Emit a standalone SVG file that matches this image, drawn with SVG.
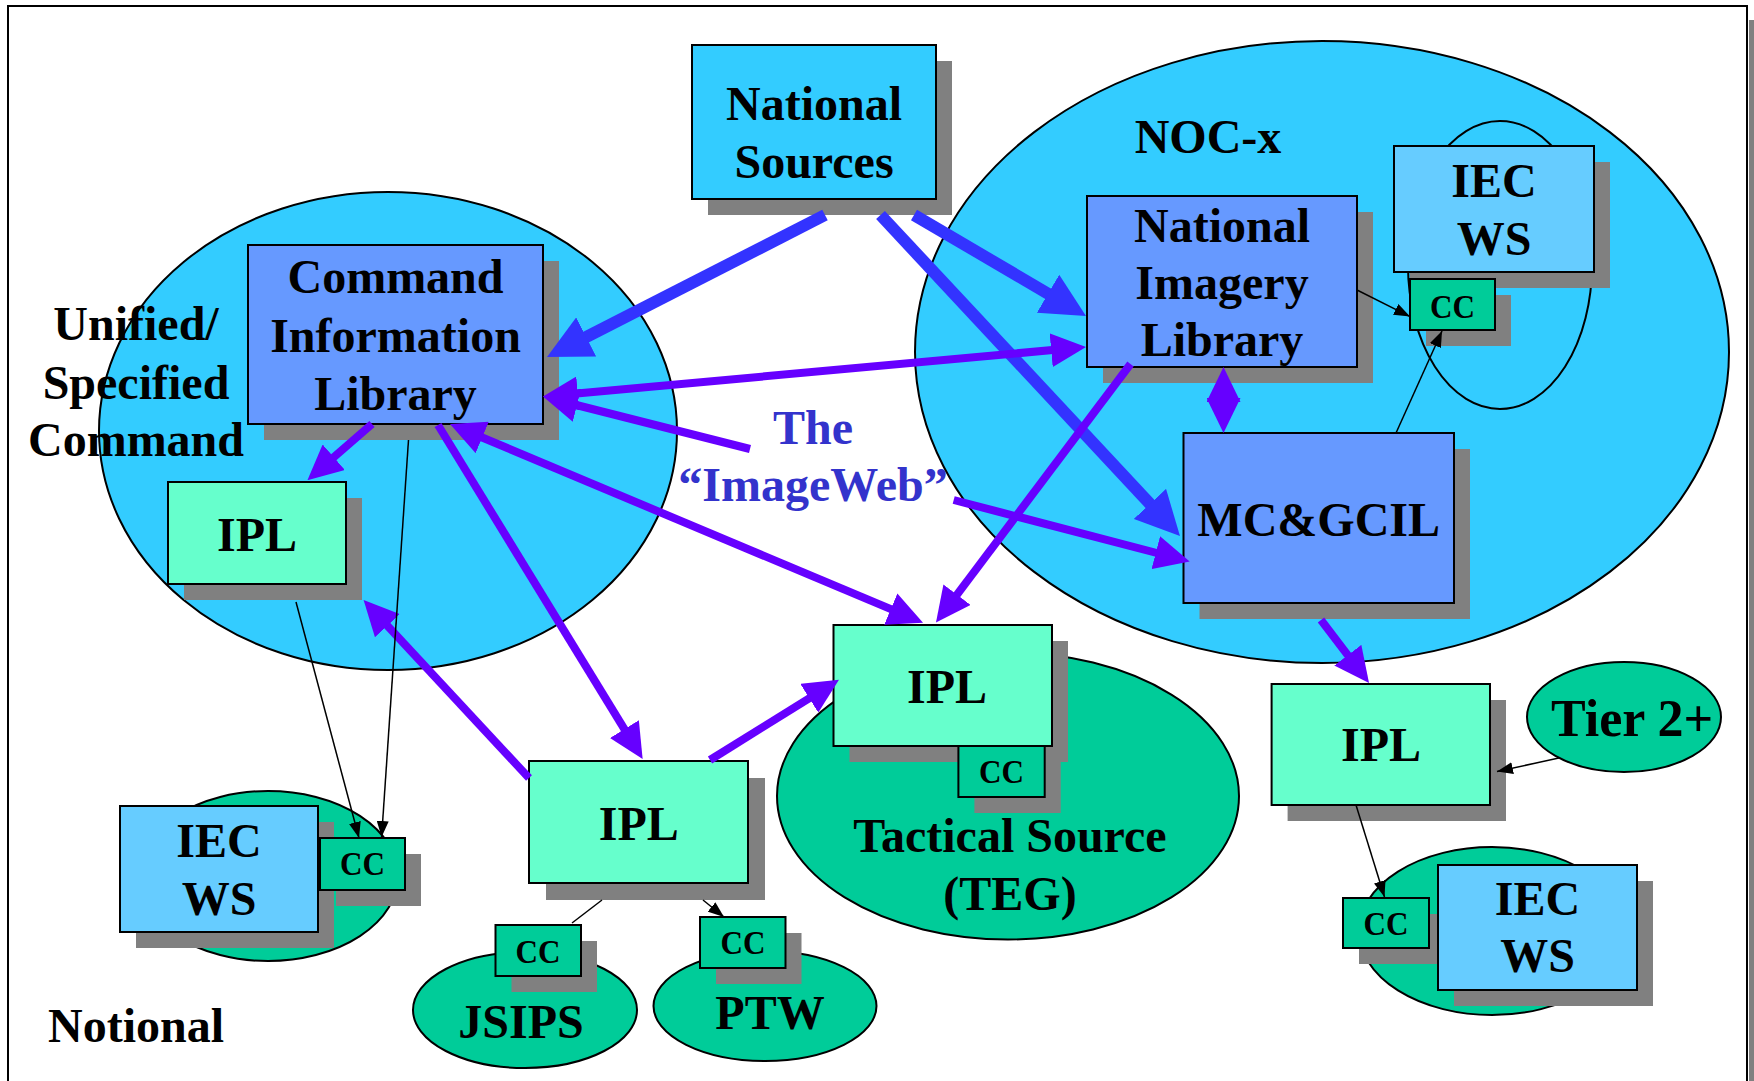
<svg xmlns="http://www.w3.org/2000/svg" width="1754" height="1081" viewBox="0 0 1754 1081">
<style>
.t{font-family:"Liberation Serif","Times New Roman",serif;font-weight:bold;font-size:48px;text-anchor:middle;fill:#000}
.cc{font-size:34px}
.sh{fill:#808080}
.bx{stroke:#000;stroke-width:2}
.el{stroke:#000;stroke-width:2}
.cyan{fill:#33CCFF}.lib{fill:#6699FF}.ipl{fill:#66FFCC}.grn{fill:#00CC99}.iec{fill:#66CCFF}
.pa{stroke:#6600FF;stroke-width:8;fill:none}
.ba{stroke:#3333FF;stroke-width:12;fill:none}
.ka{stroke:#000;stroke-width:1.5;fill:none}
</style>
<defs>
<marker id="ap" markerUnits="userSpaceOnUse" viewBox="0 0 35 34" markerWidth="35" markerHeight="34" refX="15" refY="17" orient="auto-start-reverse"><path d="M0,0 L35,17 L0,34 z" fill="#6600FF"/></marker>
<marker id="ab" markerUnits="userSpaceOnUse" viewBox="0 0 44 44" markerWidth="44" markerHeight="44" refX="20" refY="22" orient="auto"><path d="M0,0 L44,22 L0,44 z" fill="#3333FF"/></marker>
<marker id="ak" markerUnits="userSpaceOnUse" viewBox="0 0 16 12" markerWidth="16" markerHeight="12" refX="16" refY="6" orient="auto"><path d="M0,0 L16,6 L0,12 z" fill="#000"/></marker>
</defs>
<rect x="0" y="0" width="1754" height="1081" fill="#fff"/>
<rect x="1749" y="20" width="5" height="1061" fill="#808080"/>
<rect x="8" y="6" width="1739" height="1100" fill="#fff" stroke="#000" stroke-width="2"/>

<g id="unified-command">
<ellipse class="el cyan" cx="388" cy="431" rx="289" ry="239"/>
<text class="t" x="136" y="340">Unified/</text>
<text class="t" x="136" y="399">Specified</text>
<text class="t" x="136" y="456">Command</text>
</g>
<g id="noc-x">
<ellipse class="el cyan" cx="1322" cy="352" rx="407" ry="311"/>
<text class="t" x="1208" y="153">NOC-x</text>
</g>
<g id="noc-iec-ring"><ellipse class="el" fill="none" cx="1500" cy="265" rx="92" ry="144"/></g>
<g id="tactical-source">
<ellipse class="el grn" cx="1008" cy="796" rx="231" ry="143.5"/>
<text class="t" x="1010" y="852">Tactical Source</text>
<text class="t" x="1010" y="910">(TEG)</text>
</g>
<g id="iec-left-ring"><ellipse class="el grn" cx="268" cy="876" rx="130" ry="85"/></g>
<g id="jsips">
<ellipse class="el grn" cx="525" cy="1010" rx="112" ry="58"/>
<text class="t" x="521" y="1038">JSIPS</text>
</g>
<g id="ptw">
<ellipse class="el grn" cx="765" cy="1006" rx="111.5" ry="55"/>
<text class="t" x="770" y="1029">PTW</text>
</g>
<g id="tier2">
<ellipse class="el grn" cx="1624" cy="717" rx="97" ry="55"/>
<text class="t" x="1632" y="736" style="font-size:52px">Tier 2+</text>
</g>
<g id="iec-right-ring"><ellipse class="el grn" cx="1492" cy="931" rx="133" ry="84"/></g>

<g id="national-sources">
<rect class="sh" x="708" y="61" width="244" height="154"/>
<rect class="bx cyan" x="692" y="45" width="244" height="154"/>
<text class="t" x="814" y="120">National</text>
<text class="t" x="814" y="178">Sources</text>
</g>
<g id="command-info-library">
<rect class="sh" x="264" y="261" width="295" height="179"/>
<rect class="bx lib" x="248" y="245" width="295" height="179"/>
<text class="t" x="395.5" y="293">Command</text>
<text class="t" x="395.5" y="352">Information</text>
<text class="t" x="395.5" y="410">Library</text>
</g>
<g id="national-imagery-library">
<rect class="sh" x="1103" y="212" width="270" height="171"/>
<rect class="bx lib" x="1087" y="196" width="270" height="171"/>
<text class="t" x="1222" y="242">National</text>
<text class="t" x="1222" y="299">Imagery</text>
<text class="t" x="1222" y="356">Library</text>
</g>
<g id="iec-ws-noc">
<rect class="sh" x="1410" y="162" width="200" height="126"/>
<rect class="bx iec" x="1394" y="146" width="200" height="126"/>
<text class="t" x="1494" y="197">IEC</text>
<text class="t" x="1494" y="255">WS</text>
</g>
<g id="cc-noc">
<rect class="sh" x="1426" y="295" width="85" height="51"/>
<rect class="bx grn" x="1410" y="279" width="85" height="51"/>
<text class="t cc" x="1452.5" y="318" textLength="45" lengthAdjust="spacingAndGlyphs">CC</text>
</g>
<g id="mcgcil">
<rect class="sh" x="1199.5" y="449" width="270.5" height="170"/>
<rect class="bx lib" x="1183.5" y="433" width="270.5" height="170"/>
<text class="t" x="1318.7" y="536">MC&amp;GCIL</text>
</g>
<g id="ipl-command">
<rect class="sh" x="184" y="498" width="178" height="102"/>
<rect class="bx ipl" x="168" y="482" width="178" height="102"/>
<text class="t" x="257" y="551">IPL</text>
</g>
<g id="iec-ws-left">
<rect class="sh" x="136" y="822" width="198" height="126"/>
<rect class="bx iec" x="120" y="806" width="198" height="126"/>
<text class="t" x="219" y="857">IEC</text>
<text class="t" x="219" y="915">WS</text>
</g>
<g id="cc-left">
<rect class="sh" x="336" y="854" width="85" height="52"/>
<rect class="bx grn" x="320" y="838" width="85" height="52"/>
<text class="t cc" x="362.5" y="875" textLength="45" lengthAdjust="spacingAndGlyphs">CC</text>
</g>
<g id="ipl-middle">
<rect class="sh" x="546" y="778" width="219" height="122"/>
<rect class="bx ipl" x="529" y="761" width="219" height="122"/>
<text class="t" x="638.8" y="839.5">IPL</text>
</g>
<g id="cc-jsips">
<rect class="sh" x="511.5" y="941" width="85.5" height="51"/>
<rect class="bx grn" x="495.5" y="925" width="85.5" height="51"/>
<text class="t cc" x="538" y="962.6" textLength="45" lengthAdjust="spacingAndGlyphs">CC</text>
</g>
<g id="cc-ptw">
<rect class="sh" x="716" y="933" width="85.5" height="51"/>
<rect class="bx grn" x="700" y="917" width="85.5" height="51"/>
<text class="t cc" x="743" y="954" textLength="45" lengthAdjust="spacingAndGlyphs">CC</text>
</g>
<g id="ipl-tactical">
<rect class="sh" x="849.5" y="641" width="218.5" height="121"/>
<rect class="bx ipl" x="833.5" y="625" width="218.5" height="121"/>
<text class="t" x="947" y="703">IPL</text>
</g>
<g id="cc-tactical">
<rect class="sh" x="974.4" y="762" width="86.3" height="51"/>
<rect class="bx grn" x="958.4" y="746" width="86.3" height="51"/>
<text class="t cc" x="1001.5" y="782.5" textLength="45" lengthAdjust="spacingAndGlyphs">CC</text>
</g>
<g id="ipl-right">
<rect class="sh" x="1287.6" y="700" width="218.4" height="121"/>
<rect class="bx ipl" x="1271.6" y="684" width="218.4" height="121"/>
<text class="t" x="1381" y="761">IPL</text>
</g>
<g id="cc-right">
<rect class="sh" x="1359" y="914" width="86" height="50"/>
<rect class="bx grn" x="1343" y="898" width="86" height="50"/>
<text class="t cc" x="1386" y="935" textLength="45" lengthAdjust="spacingAndGlyphs">CC</text>
</g>
<g id="iec-ws-right">
<rect class="sh" x="1454" y="881" width="199" height="125"/>
<rect class="bx iec" x="1438" y="865" width="199" height="125"/>
<text class="t" x="1537.5" y="915">IEC</text>
<text class="t" x="1537.5" y="972">WS</text>
</g>

<g id="imageweb-label">
<text class="t" x="813" y="444" fill="#3333CC" style="fill:#3333CC">The</text>
<text class="t" x="813" y="501" style="fill:#3333CC">“ImageWeb”</text>
</g>
<g id="notional-label"><text class="t" x="48" y="1042" style="text-anchor:start">Notional</text></g>

<g id="connectors">
<path class="ba" marker-end="url(#ab)" d="M825,215 L568.4,346.1"/>
<path class="ba" marker-end="url(#ab)" d="M914,215 L1065.3,303.8"/>
<path class="ba" marker-end="url(#ab)" d="M880.5,215 L1163.6,518.5"/>
<path class="pa" marker-end="url(#ap)" d="M372,424 L322.5,467.1"/>
<path class="pa" marker-end="url(#ap)" d="M438,425 L632.2,741.9"/>
<path class="pa" marker-end="url(#ap)" d="M529,778 L377.2,614.7"/>
<path class="pa" marker-end="url(#ap)" d="M710,760 L822,690.3"/>
<path class="pa" marker-start="url(#ap)" marker-end="url(#ap)" d="M468.4,431.7 L904.6,614.9"/>
<path class="pa" marker-start="url(#ap)" marker-end="url(#ap)" d="M562.9,394.8 L1066.1,348.8"/>
<path class="pa" marker-end="url(#ap)" d="M750,449 L562.4,401.5"/>
<path class="pa" marker-end="url(#ap)" d="M953.7,500 L1170.3,556.5"/>
<path class="pa" marker-end="url(#ap)" d="M1130.5,364 L948,606.6"/>
<path class="pa" marker-end="url(#ap)" d="M1321,620 L1356.9,667.1"/>
<path class="pa" marker-start="url(#ap)" marker-end="url(#ap)" d="M1223.5,387 L1223.5,413"/>
<path class="ka" marker-end="url(#ak)" d="M1357,290 L1410,316.6"/>
<path class="ka" marker-end="url(#ak)" d="M1396,433 L1442,331"/>
<path class="ka" marker-end="url(#ak)" d="M296,602 L359,838"/>
<path class="ka" marker-end="url(#ak)" d="M408.5,440 L381.6,837"/>
<path class="ka" d="M572,923 L602,900"/>
<path class="ka" marker-end="url(#ak)" d="M703,900 L724,917"/>
<path class="ka" marker-end="url(#ak)" d="M1560,757.7 L1497,771.6"/>
<path class="ka" marker-end="url(#ak)" d="M1356,805 L1384.5,897"/>
</g>
</svg>
